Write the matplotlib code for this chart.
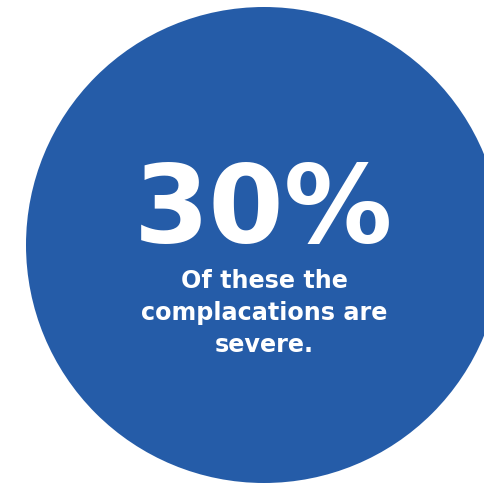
import matplotlib
matplotlib.use("Agg")
import matplotlib.pyplot as plt
from matplotlib.patches import Circle

# values
share = "30%"
caption_lines = ["Of these the", "complacations are", "severe."]

W, H = 485, 484
blue = "#255ca8"

fig = plt.figure(figsize=(W / 100, H / 100), dpi=100)
ax = fig.add_axes([0, 0, 1, 1])
ax.set_xlim(0, W)
ax.set_ylim(H, 0)
ax.set_aspect("equal")
ax.axis("off")

ax.add_patch(Circle((264, 245), 238, color=blue, lw=0))

ax.text(264, 242, share, color="white", fontsize=78, fontweight="bold",
        family="DejaVu Sans", ha="center", va="baseline")

for i, line in enumerate(caption_lines):
    ax.text(264, 288 + 32 * i, line, color="white", fontsize=17.2,
            fontweight="bold", family="DejaVu Sans", ha="center", va="baseline")

fig.savefig("out.png", dpi=100)
